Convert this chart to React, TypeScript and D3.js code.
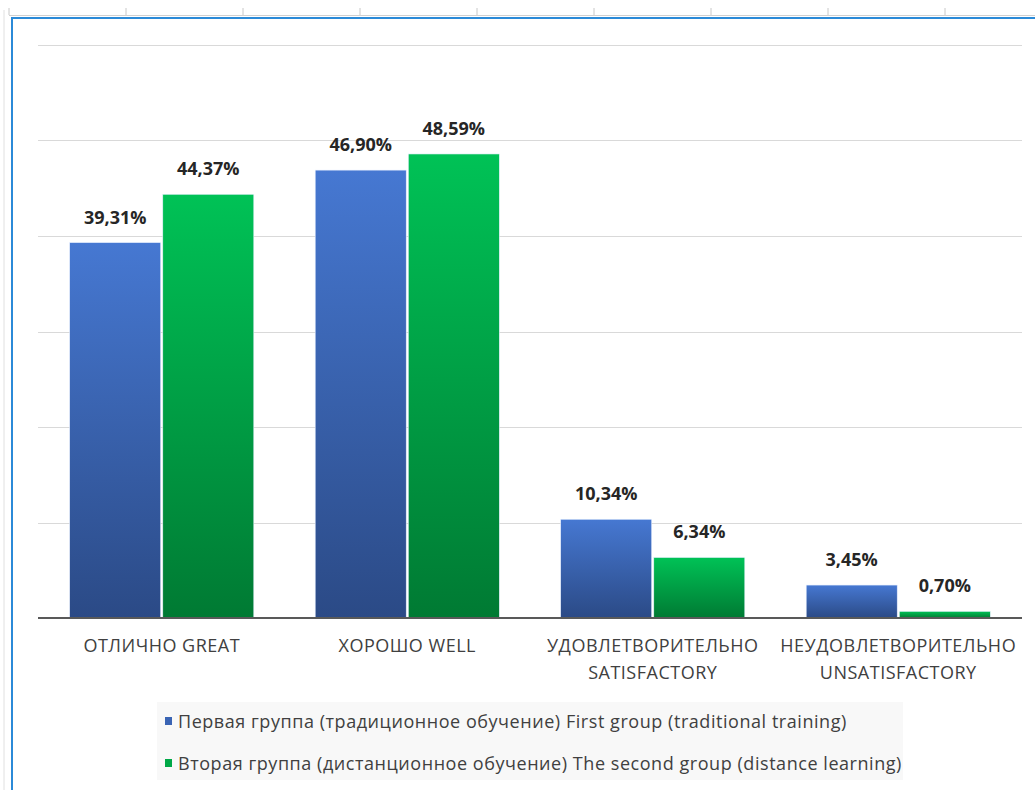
import React from "react";
import * as d3 from "d3";

const categories = [
  ["ОТЛИЧНО GREAT"],
  ["ХОРОШО WELL"],
  ["УДОВЛЕТВОРИТЕЛЬНО", "SATISFACTORY"],
  ["НЕУДОВЛЕТВОРИТЕЛЬНО", "UNSATISFACTORY"],
];
const seriesNames = [
  "Первая группа (традиционное обучение) First group (traditional training)",
  "Вторая группа (дистанционное обучение) The second group (distance learning)",
];
const firstGroup = [39.31, 46.9, 10.34, 3.45];
const secondGroup = [44.37, 48.59, 6.34, 0.7];
const yTicks = [0, 10, 20, 30, 40, 50, 60];

const W = 1035;
const H = 790;
const FONT = "'Open Sans', 'DejaVu Sans', sans-serif";

export default function App() {
  const x0 = d3
    .scaleBand<number>()
    .domain(d3.range(categories.length))
    .range([39, 1021])
    .paddingInner(0.25)
    .paddingOuter(0.125);
  const x1 = d3
    .scaleBand<number>()
    .domain([0, 1])
    .range([0, x0.bandwidth()])
    .paddingInner(0.022);
  const y = d3.scaleLinear().domain([0, 60]).range([618, 45]);
  const series = [firstGroup, secondGroup];
  const gradIds = ["gBlue", "gGreen"];
  const fmt = (v: number) => v.toFixed(2).replace(".", ",") + "%";

  const rulerTicks = d3.range(9, 1035, 117);

  return (
    <svg
      width={W}
      height={H}
      style={{ position: "absolute", left: 0, top: 0, background: "#fff" }}
    >
      <defs>
        <linearGradient id="gBlue" x1="0" y1="0" x2="0" y2="1">
          <stop offset="0%" stopColor="#4678d2" />
          <stop offset="100%" stopColor="#2b4a86" />
        </linearGradient>
        <linearGradient id="gGreen" x1="0" y1="0" x2="0" y2="1">
          <stop offset="0%" stopColor="#00c256" />
          <stop offset="100%" stopColor="#007a33" />
        </linearGradient>
      </defs>
      <rect x={0} y={0} width={W} height={H} fill="#fff" />
      {/* spreadsheet ruler */}
      {rulerTicks.map((t, i) => (
        <line key={i} x1={t} x2={t} y1={8} y2={15} stroke="#c8c8c8" strokeWidth={1} />
      ))}
      <line x1={9} x2={W} y1={15.5} y2={15.5} stroke="#d0d0d0" strokeWidth={1} />
      <line x1={4} x2={4} y1={10} y2={H} stroke="#e0e0e0" strokeWidth={1} />
      {/* blue frame */}
      <line x1={12} x2={W} y1={18} y2={18} stroke="#2b8ad8" strokeWidth={2} />
      <line x1={12} x2={12} y1={17} y2={H} stroke="#2b8ad8" strokeWidth={2} />

      {/* gridlines */}
      {yTicks.slice(1).map((t) => (
        <line
          key={t}
          x1={38}
          x2={1022}
          y1={Math.round(y(t)) + 0.5}
          y2={Math.round(y(t)) + 0.5}
          stroke="#d9d9d9"
          strokeWidth={1}
        />
      ))}

      {/* bars */}
      {categories.map((_, ci) => (
        <g key={ci} transform={`translate(${x0(ci)},0)`}>
          {series.map((s, si) => (
            <g key={si}>
              <rect
                x={x1(si)}
                y={y(s[ci])}
                width={x1.bandwidth()}
                height={y(0) - y(s[ci])}
                fill={`url(#${gradIds[si]})`}
                stroke="#e8f0ff"
                strokeWidth={0.6}
              />
              <text
                x={(x1(si) as number) + x1.bandwidth() / 2}
                y={y(s[ci]) - 19}
                textAnchor="middle"
                fontFamily={FONT}
                fontWeight="bold"
                fontSize={18}
                fill="#262626"
              >
                {fmt(s[ci])}
              </text>
            </g>
          ))}
        </g>
      ))}

      {/* baseline */}
      <line x1={38} x2={1022} y1={y(0)} y2={y(0)} stroke="#595959" strokeWidth={2} />

      {/* category labels */}
      {categories.map((lines, ci) => (
        <text
          key={ci}
          textAnchor="middle"
          fontFamily={FONT}
          fontSize={18}
          letterSpacing={0.5}
          fill="#404040"
        >
          {lines.map((l, li) => (
            <tspan
              key={li}
              x={(x0(ci) as number) + x0.bandwidth() / 2}
              y={651.5 + li * 27}
            >
              {l}
            </tspan>
          ))}
        </text>
      ))}

      {/* legend */}
      <rect x={157} y={702} width={746} height={78} fill="#f8f8f8" />
      {seriesNames.map((name, i) => (
        <g key={i} transform={`translate(165,${721 + i * 42})`}>
          <rect x={0} y={-4} width={7} height={8} fill={i === 0 ? "#3a64b4" : "#00a847"} />
          <text x={13} y={6.5} fontFamily={FONT} fontSize={18} letterSpacing={0.55} fill="#404040">
            {name}
          </text>
        </g>
      ))}
    </svg>
  );
}
